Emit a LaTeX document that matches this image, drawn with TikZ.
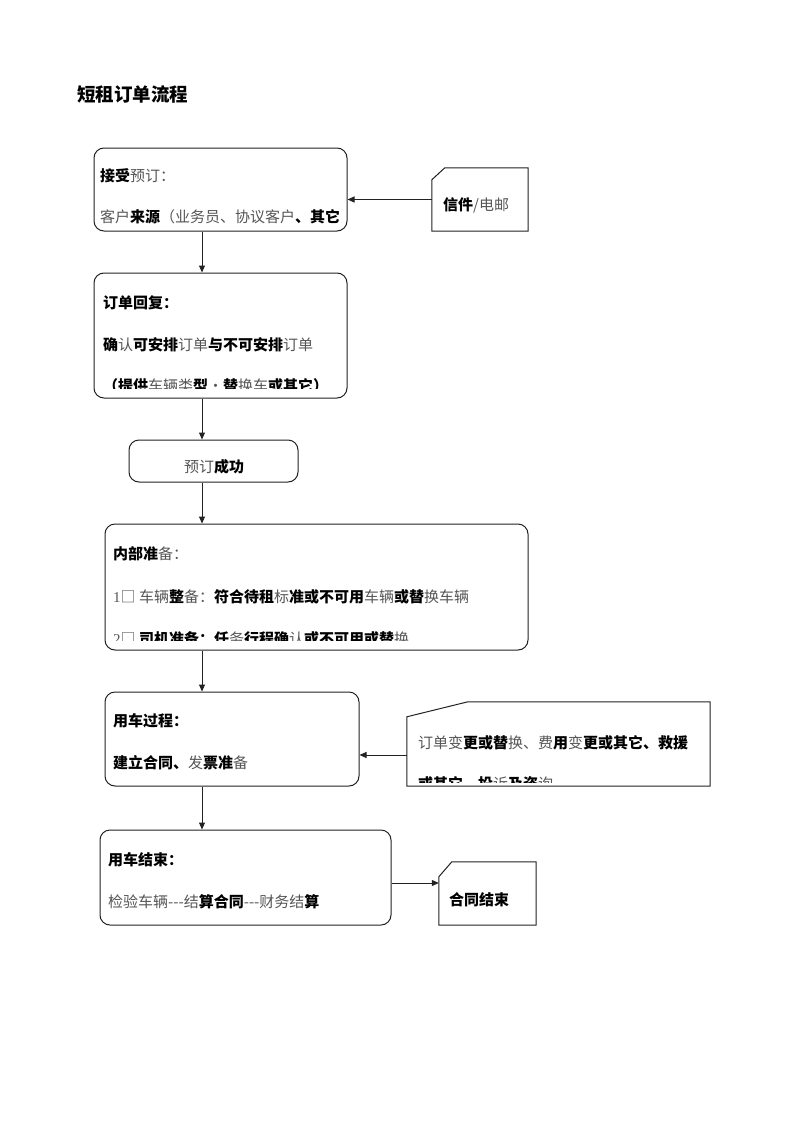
\documentclass[tikz,border=0pt]{standalone}
\usepackage{fontspec}
\setmainfont{Noto Sans CJK SC}
\newfontfamily\serfont{Liberation Serif}
\usetikzlibrary{arrows.meta}
\definecolor{txtgray}{HTML}{555555}
\definecolor{linec}{HTML}{222222}
\newcommand{\tR}[1]{{\mdseries\color{txtgray}#1}}
\newcommand{\tB}[1]{{\bfseries\color{black}#1}}
\newcommand{\fs}{\fontsize{15}{18}\selectfont}
\newcommand{\hyph}{-{}-{}-}
\tikzset{
  box/.style={draw=linec, line width=1pt, rounded corners=10pt, inner sep=0pt},
  notebox/.style={inner sep=0pt},
  notedraw/.style={draw=linec, line width=1pt},
  txt/.style={anchor=base west, inner sep=0pt, font=\fs},
  arr/.style={draw=linec, line width=1pt, -{Triangle[length=7pt,width=6pt]}}
}
\begin{document}
\begin{tikzpicture}[x=1pt,y=-1pt]
\useasboundingbox[fill=white] (0,0) rectangle (800,1132);
% title
\node[anchor=base west, inner sep=0pt, font=\fontsize{18.5}{22}\selectfont\bfseries] (title) at (77,101.5) {短租订单流程};

% spine
\coordinate (sp) at (202,0);

% box 1
\node[box, minimum width=253pt, minimum height=83pt] (b1) at (220.5,189.5) {};
\node[txt] (b1t1) at (100,181) {\tB{接受}\tR{预订：}};
\node[txt] (b1t2) at (100,222) {\tR{客户}\tB{来源}\tR{（业务员、协议客户}\tB{、其它}};

% note 1
\node[notebox, minimum width=96pt, minimum height=63pt] (n1) at (480,199.5) {};
\draw[notedraw] ([yshift=-12pt]n1.north west) -- ([xshift=13pt]n1.north west) -- (n1.north east) -- (n1.south east) -- (n1.south west) -- cycle;
\node[txt] (n1t) at (443,210) {\tB{信件}\tR{/电邮}};

% box 2
\node[box, minimum width=253pt, minimum height=125pt] (b2) at (220.5,335.5) {};
\begin{scope}
\clip[rounded corners=10pt] (b2.north west) rectangle ([yshift=10pt]b2.south east);
\node[txt] (b2t1) at (103,308) {\tB{订单回复：}};
\node[txt] (b2t2) at (103,350) {\tB{确}\tR{认}\tB{可安排}\tR{订单}\tB{与不可安排}\tR{订单}};
\node[txt] (b2t3) at (103,391) {\tB{（提供}\tR{车辆类}\tB{型}\tR{·}\tB{替}\tR{换车}\tB{或其它）}};
\end{scope}

% box 3
\node[box, minimum width=169pt, minimum height=42pt] (b3) at (213.5,461) {};
\node[anchor=base, inner sep=0pt, font=\fs] (b3t) at (214,472) {\tR{预订}\tB{成功}};

% box 4
\node[box, minimum width=423pt, minimum height=126pt] (b4) at (316.5,587) {};
\begin{scope}
\clip[rounded corners=10pt] (b4.north west) rectangle ([yshift=10pt]b4.south east);
\node[txt] (b4t1) at (113,559) {\tB{内部准}\tR{备：}};
\node[txt] (b4t2) at (113,602) {\tR{{\serfont 1}□ 车辆}\tB{整}\tR{备：}\tB{符合待租}\tR{标}\tB{准或不可用}\tR{车辆}\tB{或替}\tR{换车辆}};
\node[txt] (b4t3) at (113,644) {\tR{{\serfont 2}□ }\tB{司机准备：任}\tR{务}\tB{行程确}\tR{认}\tB{或不可用或替}\tR{换}};
\end{scope}

% box 5
\node[box, minimum width=254pt, minimum height=94pt] (b5) at (232,739) {};
\node[txt] (b5t1) at (113,726) {\tB{用车过程：}};
\node[txt] (b5t2) at (113,768) {\tB{建立合同、}\tR{发}\tB{票准}\tR{备}};

% note 2
\node[notebox, minimum width=303pt, minimum height=84pt] (n2) at (558.5,744) {};
\draw[notedraw] ([yshift=-15pt]n2.north west) -- ([xshift=61pt]n2.north west) -- (n2.north east) -- (n2.south east) -- (n2.south west) -- cycle;
\begin{scope}
\clip (n2.north west) rectangle ([yshift=4pt]n2.south east);
\node[txt] (n2t1) at (418,748) {\tR{订单变}\tB{更或替}\tR{换、费}\tB{用}\tR{变}\tB{更或其它、救援}};
\node[txt] (n2t2) at (418,789) {\tB{或其它、投}\tR{诉}\tB{及咨}\tR{询}};
\end{scope}

% box 6
\node[box, minimum width=291pt, minimum height=95pt] (b6) at (245.5,877.5) {};
\node[txt] (b6t1) at (108,865) {\tB{用车结束：}};
\node[txt] (b6t2) at (108,907) {\tR{检验车辆\hyph{}结}\tB{算合同}\tR{\hyph{}财务结}\tB{算}};

% note 3
\node[notebox, minimum width=97pt, minimum height=63pt] (n3) at (487.5,893.5) {};
\draw[notedraw] ([yshift=-15pt]n3.north west) -- ([xshift=13pt]n3.north west) -- (n3.north east) -- (n3.south east) -- (n3.south west) -- cycle;
\node[txt] (n3t) at (449,905) {\tB{合同结束}};

% connectors
\draw[arr] (n1.west) -- (n1.west -| b1.east);
\draw[arr] (b1.south -| sp) -- (b2.north -| sp);
\draw[arr] (b2.south -| sp) -- (b3.north -| sp);
\draw[arr] (b3.south -| sp) -- (b4.north -| sp);
\draw[arr] (b4.south -| sp) -- (b5.north -| sp);
\draw[arr] (b5.south -| sp) -- (b6.north -| sp);
\coordinate (a2) at ([yshift=-11pt]n2.west);
\draw[arr] (a2) -- (a2 -| b5.east);
\coordinate (a3) at ([yshift=-5.5pt]b6.east);
\draw[arr] (a3) -- (a3 -| n3.west);
\end{tikzpicture}
\end{document}
